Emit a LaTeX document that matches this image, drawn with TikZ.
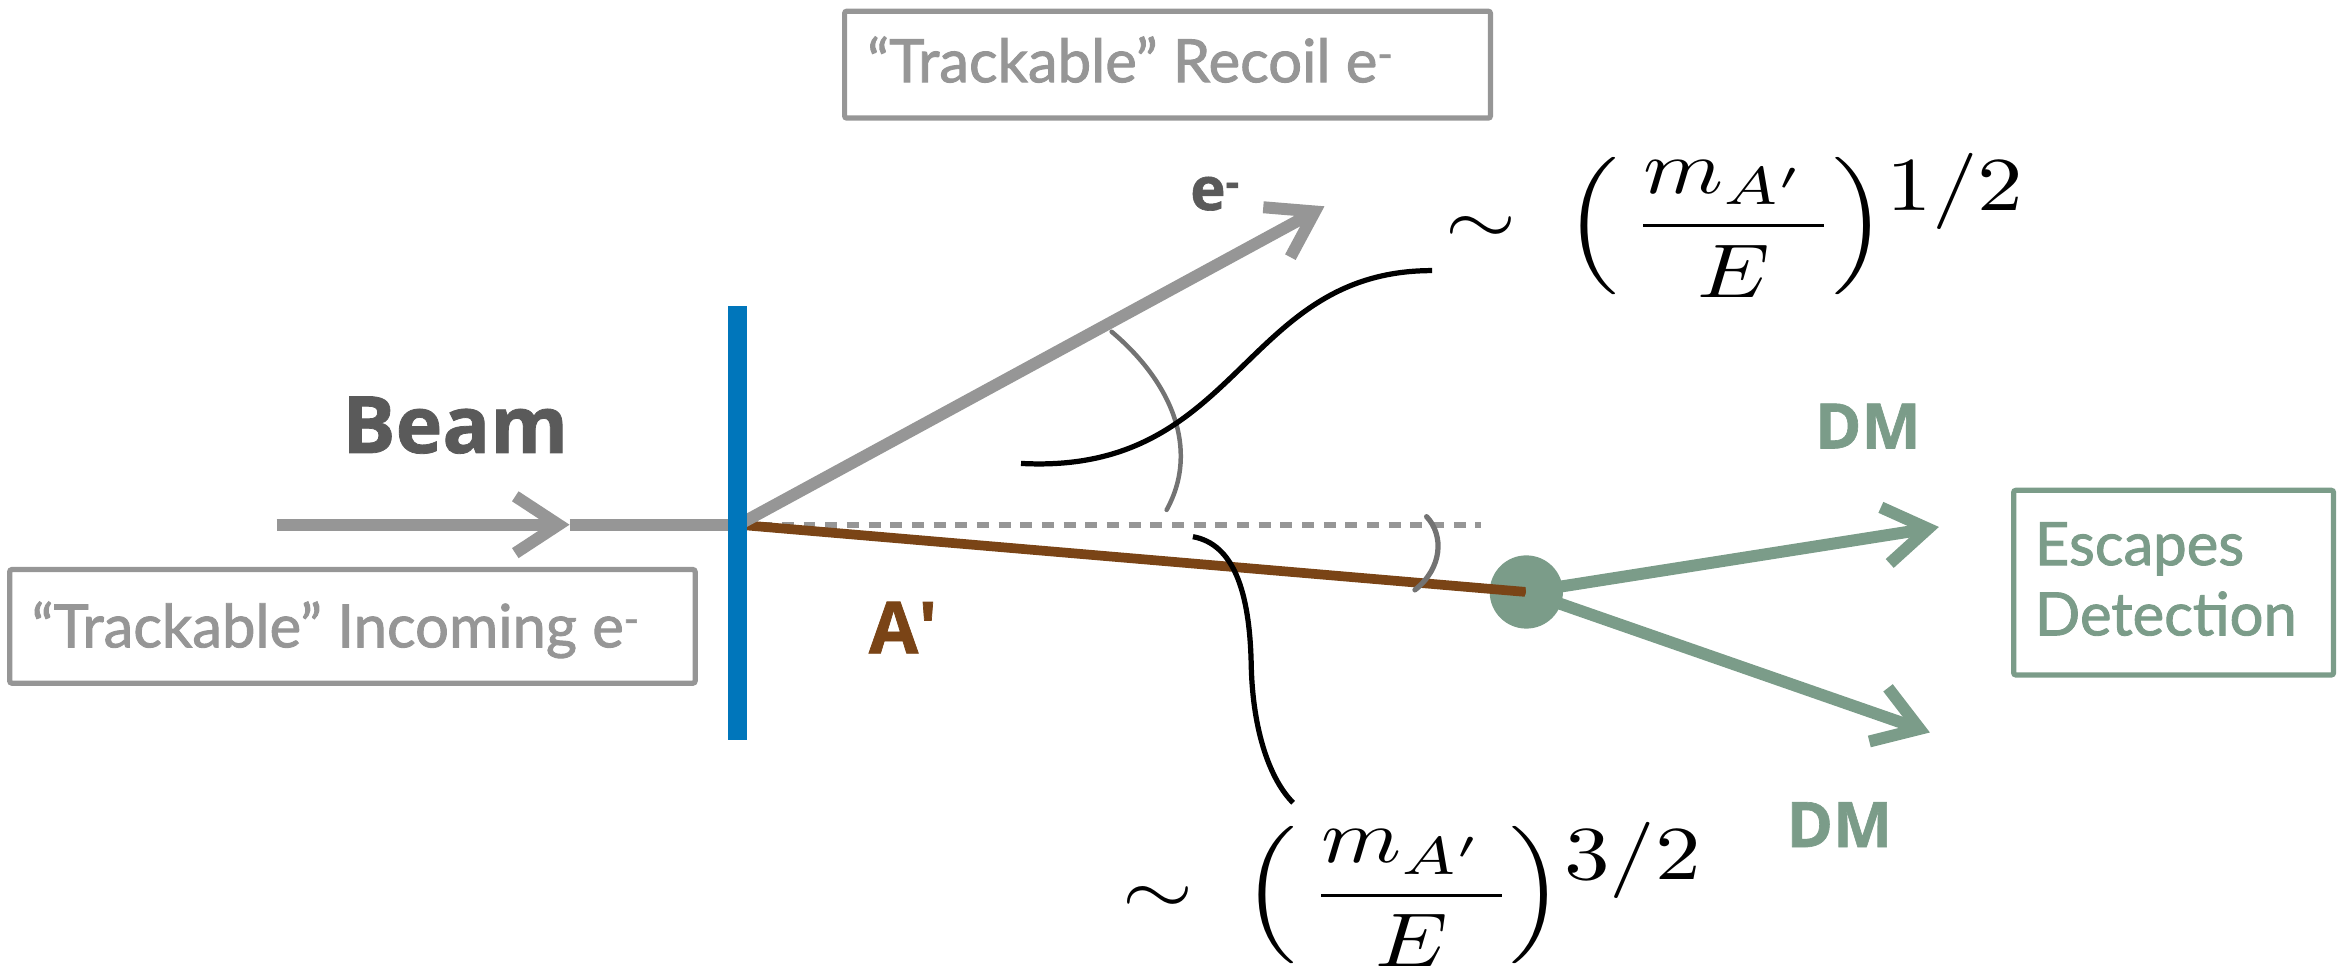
\documentclass[tikz,border=0pt]{standalone}
\usepackage{fontspec}
\usepackage{graphicx}
\usetikzlibrary{arrows.meta}
\newfontfamily\latofont{Lato}[FakeBold=1.5]
\newfontfamily\osfont{Open Sans}[BoldFeatures={FakeBold=1}]
\definecolor{lgray}{RGB}{150,150,150}
\definecolor{agray}{RGB}{115,115,115}
\definecolor{dgray}{RGB}{90,90,90}
\definecolor{tblue}{RGB}{0,118,187}
\definecolor{brownA}{RGB}{122,68,22}
\definecolor{dmgreen}{RGB}{123,156,137}
\newcommand{\angform}[1]{\scalebox{6.1}[5.1]{$\displaystyle\sim\kern2.5pt\Big(\kern1.5pt\frac{m_{A'}\kern1.8pt}{E}\kern-0.3pt\Big)\kern0pt\raisebox{4.5pt}{$#1$}$}}
\begin{document}
\begin{tikzpicture}[x=1pt,y=-1pt,
  chevron/.style={-{Straight Barb[length=29pt,width=38pt]}},
  grayline/.style={draw=lgray,line width=8pt},
  greenline/.style={draw=dmgreen,line width=8pt},
  boxframe/.style={draw=lgray,line width=3.5pt,rounded corners=1.5pt,inner sep=0pt},
  boxtext/.style={inner sep=0pt,text=lgray,font=\latofont\fontsize{40}{48}\selectfont},
  greentext/.style={inner sep=0pt,text=dmgreen,font=\latofont\fontsize{40}{48}\selectfont},
  lbl/.style={inner sep=0pt,font=\osfont\bfseries},
  anglearc/.style={draw=agray,line width=3pt,line cap=round},
  pointer/.style={draw=black,line width=3.5pt},
  formula/.style={inner sep=0pt}
]
\useasboundingbox (0,0) rectangle (1568,651);

% key points
\coordinate (v) at (494,351);
\coordinate (bs) at (185,351);
\coordinate (bm) at (381,351);
\coordinate (rtip) at (886,138);
\coordinate (dend) at (991,351);
\coordinate (dm1) at (1297,352.5);
\coordinate (dm2) at (1291,490);
\node[circle,fill=dmgreen,minimum size=49pt,inner sep=0pt] (dot) at (1021,396) {};

% boxes
\node[boxframe,minimum width=432pt,minimum height=71.5pt] (recoilbox) at (781,43.25) {};
\node[boxtext,anchor=base west] (recoiltxt) at (580,55) {“Trackable” Recoil e\textsuperscript{-}};
\node[boxframe,minimum width=458.5pt,minimum height=76pt] (incbox) at (235.75,419) {};
\node[boxtext,anchor=base west] (inctxt) at (21,433) {“Trackable” Incoming e\textsuperscript{-}};
\node[boxframe,draw=dmgreen,minimum width=214pt,minimum height=123.5pt] (escbox) at (1454,389.75) {};
\node[greentext,anchor=base west] (esc1) at (1361,378) {Escapes};
\node[greentext,anchor=base west] (esc2) at (1361,425) {Detection};

% trajectories
\draw[draw=lgray,line width=4pt,dash pattern=on 8pt off 6.5pt] (v) -- (dend);
\draw[draw=brownA,line width=6.5pt] (v) -- (dot.center);
\draw[grayline,chevron] (v) -- (rtip);
\draw[grayline,chevron] (bs) -- (bm);
\draw[grayline] (bm) -- (v);
\draw[greenline,chevron] (dot.center) -- (dm1);
\draw[greenline,chevron] (dot.center) -- (dm2);

% target
\node[fill=tblue,minimum width=13pt,minimum height=290pt,inner sep=0pt] (target) at (493.5,350) {};

% angle arcs
\coordinate (a1s) at (743.6,221.9);
\coordinate (a1e) at (780.4,341.1);
\draw[anglearc] (a1s) .. controls (783,255) and (803,300) .. (a1e);
\coordinate (a2s) at (954.3,345.6);
\coordinate (a2e) at (946.5,394.6);
\draw[anglearc,line width=3.5pt] (a2s) .. controls (966,358) and (965,380) .. (a2e);

% pointer curves
\coordinate (p1s) at (683,310);
\coordinate (p1e) at (958,181);
\draw[pointer] (p1s) .. controls (830,318) and (830,181) .. (p1e);
\coordinate (p2s) at (798,359);
\coordinate (p2m) at (837,445);
\coordinate (p2e) at (865,537);
\draw[pointer] (p2s) .. controls (825,364) and (836,395) .. (p2m) .. controls (838,490) and (850,522) .. (p2e);

% formulas
\node[formula,anchor=base west] (f1) at (966.5,163.75) {\angform{1/2}};
\node[formula,anchor=base west] (f2) at (751,611.5) {\angform{3/2}};

% labels
\node[lbl,text=dgray,font=\osfont\bfseries\fontsize{53}{60}\selectfont,anchor=base] (beam) at (304.5,303) {Beam};
\node[lbl,text=dgray,font=\osfont\bfseries\fontsize{40}{48}\selectfont,anchor=base west] (elbl) at (796,140.5) {e\textsuperscript{-}};
\node[lbl,text=brownA,font=\osfont\bfseries\fontsize{48}{56}\selectfont,anchor=base west] (albl) at (581,437) {A\textquotesingle};
\node[lbl,text=dmgreen,font=\osfont\bfseries\fontsize{42}{50}\selectfont,anchor=base] (dmup) at (1249.5,300) {DM};
\node[lbl,text=dmgreen,font=\osfont\bfseries\fontsize{42}{50}\selectfont,anchor=base] (dmdown) at (1230.5,566.6) {DM};
\end{tikzpicture}
\end{document}
